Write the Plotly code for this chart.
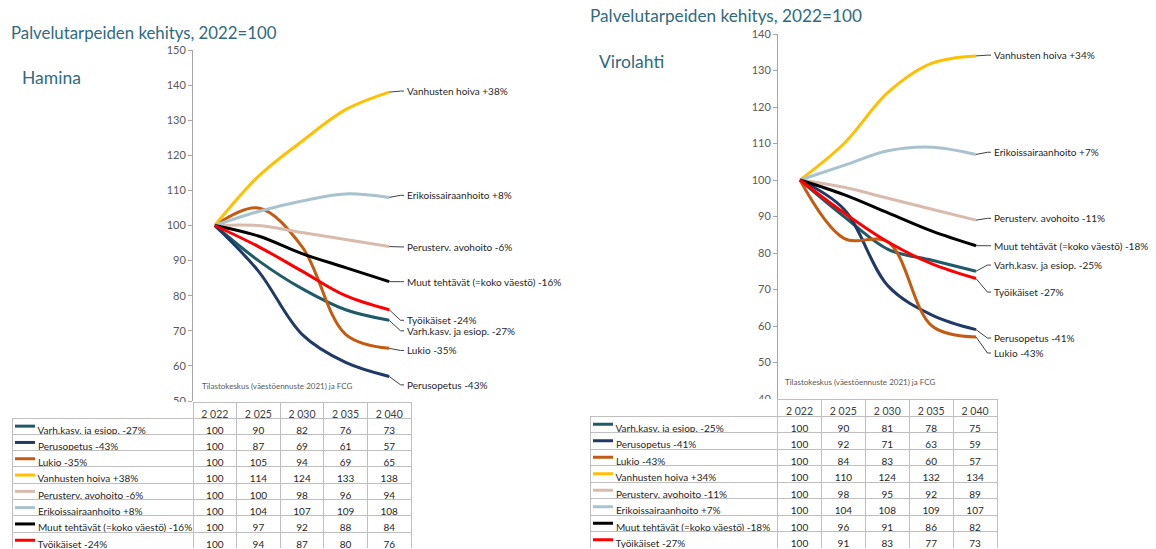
import plotly.graph_objects as go

# ---------------- data ----------------
years = ["2 022", "2 025", "2 030", "2 035", "2 040"]

series_colors = ["#1F5A68", "#1F3A66", "#C55A11", "#FFC000",
                 "#D8BBAC", "#A9C3CE", "#000000", "#FF0000"]

hamina_names = ["Varh.kasv. ja esiop. -27%", "Perusopetus -43%", "Lukio -35%",
                "Vanhusten hoiva +38%", "Perusterv. avohoito -6%",
                "Erikoissairaanhoito +8%", "Muut tehtävät (=koko väestö) -16%",
                "Työikäiset -24%"]
hamina_varh = [100, 90, 82, 76, 73]
hamina_perus = [100, 87, 69, 61, 57]
hamina_lukio = [100, 105, 94, 69, 65]
hamina_vanhus = [100, 114, 124, 133, 138]
hamina_avo = [100, 100, 98, 96, 94]
hamina_erik = [100, 104, 107, 109, 108]
hamina_muut = [100, 97, 92, 88, 84]
hamina_tyo = [100, 94, 87, 80, 76]

viro_names = ["Varh.kasv. ja esiop. -25%", "Perusopetus -41%", "Lukio -43%",
              "Vanhusten hoiva +34%", "Perusterv. avohoito -11%",
              "Erikoissairaanhoito +7%", "Muut tehtävät (=koko väestö) -18%",
              "Työikäiset -27%"]
viro_varh = [100, 90, 81, 78, 75]
viro_perus = [100, 92, 71, 63, 59]
viro_lukio = [100, 84, 83, 60, 57]
viro_vanhus = [100, 110, 124, 132, 134]
viro_avo = [100, 98, 95, 92, 89]
viro_erik = [100, 104, 108, 109, 107]
viro_muut = [100, 96, 91, 86, 82]
viro_tyo = [100, 91, 83, 77, 73]

hamina_series = [hamina_varh, hamina_perus, hamina_lukio, hamina_vanhus,
                 hamina_avo, hamina_erik, hamina_muut, hamina_tyo]
viro_series = [viro_varh, viro_perus, viro_lukio, viro_vanhus,
               viro_avo, viro_erik, viro_muut, viro_tyo]

# label vertical positions (layout, in axis units)
hamina_label_y = [70.0, 54.6, 64.4, 138.3, 93.9, 108.6, 84.0, 73.0]
viro_label_y = [76.7, 56.7, 52.6, 134.2, 89.5, 107.6, 82.0, 69.3]

# ---------------- layout constants ----------------
W, H = 1156, 549
FONT = "Lato"
TITLE_C = "#2E6B7E"
TXT = "#262626"
GRID = "#BFBFBF"
NB = "\u00a0"


def px(x):
    return x / W


def py(y):
    return 1 - y / H


xi = list(range(len(years)))

fig = go.Figure()

panels = [
    dict(names=hamina_names, series=hamina_series, laby=hamina_label_y,
         xa="x", ya="y", xdom=(193, 411), ydom=(401, 50), yr=(50, 150),
         tab_left=12, tab_top=402, head_h=16, row_h=16.3,
         title=(9, 32, 16.8), sub=("Hamina", 20, 77, 17.5), src=(200, 386)),
    dict(names=viro_names, series=viro_series, laby=viro_label_y,
         xa="x2", ya="y2", xdom=(778, 998), ydom=(399, 34), yr=(40, 140),
         tab_left=590, tab_top=399, head_h=17, row_h=16.5,
         title=(588, 16, 17.2), sub=("Virolahti", 597, 62, 17.5), src=(783, 382)),
]

shapes = []
annotations = []

for p in panels:
    for name, vals, col, ly in zip(p["names"], p["series"], series_colors, p["laby"]):
        fig.add_trace(go.Scatter(
            x=xi, y=vals, mode="lines", name=name,
            line=dict(color=col, width=3, shape="spline", smoothing=1),
            xaxis=p["xa"], yaxis=p["ya"], showlegend=False, hoverinfo="skip"))
        x_end = xi[-1]
        y_end = vals[-1]
        shapes.append(dict(
            type="path", xref=p["xa"], yref=p["ya"],
            path=f"M {x_end},{y_end} L {x_end + 0.26},{ly} L {x_end + 0.34},{ly}",
            line=dict(color="#404040", width=1)))
        annotations.append(dict(
            x=x_end + 0.36, y=ly, xref=p["xa"], yref=p["ya"], text=name,
            showarrow=False, xanchor="left", yanchor="middle",
            font=dict(family=FONT, size=10, color=TXT)))

    # table
    x0, x1 = p["tab_left"], p["xdom"][1]
    lab_w = p["xdom"][0] - x0
    col_w = (p["xdom"][1] - p["xdom"][0]) / len(years)
    n = len(p["names"])
    tab_h = p["head_h"] + n * p["row_h"]
    top = p["tab_top"]
    cols = [[NB * 7 + nm.replace(" ", NB) for nm in p["names"]]]
    for j in range(len(years)):
        cols.append([s[j] for s in p["series"]])
    fig.add_trace(go.Table(
        domain=dict(x=[px(x0), px(x1)], y=[max(0, py(top + tab_h + 1)), py(top)]),
        columnwidth=[lab_w] + [col_w] * len(years),
        header=dict(values=[""] + [y.replace(" ", NB) for y in years],
                    height=p["head_h"], fill_color="white",
                    line=dict(color=["rgba(0,0,0,0)"] + [GRID] * len(years), width=1),
                    align="center",
                    font=dict(family=FONT, size=10.5, color="#404040")),
        cells=dict(values=cols, height=p["row_h"], fill_color="white",
                   line=dict(color=GRID, width=1),
                   align=["left"] + ["center"] * len(years),
                   font=dict(family=FONT, size=10, color=TXT))))
    for i, col in enumerate(series_colors):
        yc = top + p["head_h"] + (i + 0.5) * p["row_h"]
        shapes.append(dict(type="line", xref="paper", yref="paper",
                           x0=px(x0 + 3), x1=px(x0 + 23), y0=py(yc), y1=py(yc),
                           line=dict(color=col, width=3)))

    tx, ty, ts = p["title"]
    annotations.append(dict(x=px(tx), y=py(ty), xref="paper", yref="paper",
                            text="Palvelutarpeiden kehitys, 2022=100", showarrow=False,
                            xanchor="left", yanchor="middle",
                            font=dict(family=FONT, size=ts, color=TITLE_C)))
    st, sx, sy, ss = p["sub"]
    annotations.append(dict(x=px(sx), y=py(sy), xref="paper", yref="paper",
                            text=st, showarrow=False, xanchor="left", yanchor="middle",
                            font=dict(family=FONT, size=ss, color=TITLE_C)))
    sx, sy = p["src"]
    annotations.append(dict(x=px(sx), y=py(sy), xref="paper", yref="paper",
                            text="Tilastokeskus (väestöennuste 2021) ja FCG",
                            showarrow=False, xanchor="left", yanchor="middle",
                            font=dict(family=FONT, size=8, color="#595959")))

axis_common_y = dict(showgrid=False, zeroline=False, showline=True, linecolor="#A6A6A6",
                     linewidth=1, ticks="outside", ticklen=4, tickcolor="#A6A6A6",
                     dtick=10, automargin=False, fixedrange=True,
                     tickfont=dict(family=FONT, size=11, color="#595959"))
axis_common_x = dict(visible=False, range=[-0.5, len(years) - 0.5], fixedrange=True,
                     automargin=False)

fig.update_layout(
    width=W, height=H, margin=dict(l=0, r=0, t=0, b=0, autoexpand=False),
    paper_bgcolor="white", plot_bgcolor="white",
    xaxis=dict(domain=[px(193), px(411)], anchor="y", **axis_common_x),
    yaxis=dict(domain=[py(401), py(50)], range=[50, 150], anchor="x", **axis_common_y),
    xaxis2=dict(domain=[px(778), px(998)], anchor="y2", **axis_common_x),
    yaxis2=dict(domain=[py(399), py(34)], range=[40, 140], anchor="x2", **axis_common_y),
    shapes=shapes, annotations=annotations, showlegend=False,
)

fig.write_html("out.html", config={"displayModeBar": False},
               post_script="document.body.style.margin='0';")
